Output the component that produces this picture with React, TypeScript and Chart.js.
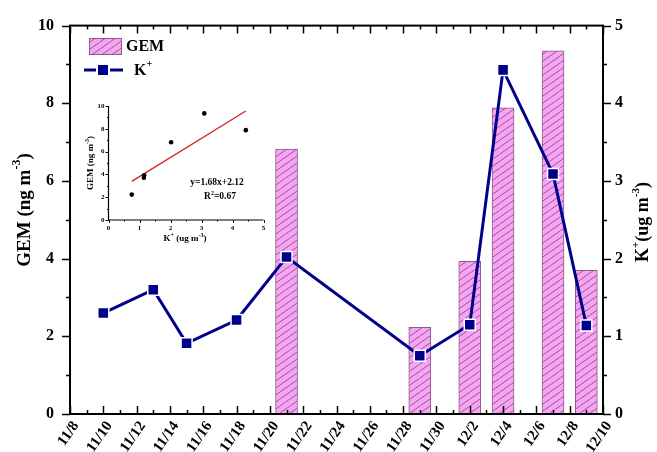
import React, { useEffect, useRef } from "react";
import { Chart, registerables } from "chart.js";

Chart.register(...registerables);

// Date axis: 11/8 .. 12/10, labelled every second day
const TICK_LABELS = [
  "11/8", "11/10", "11/12", "11/14", "11/16", "11/18", "11/20", "11/22", "11/24",
  "11/26", "11/28", "11/30", "12/2", "12/4", "12/6", "12/8", "12/10",
];

// GEM (ng m-3), bars on the left axis
const GEM_DATES = ["11/21", "11/29", "12/2", "12/4", "12/7", "12/9"];
const GEM_VALUES = [6.82, 2.23, 3.93, 7.88, 9.35, 3.7];

// K+ (ug m-3), line on the right axis
const K_DATES = ["11/10", "11/13", "11/15", "11/18", "11/21", "11/29", "12/2", "12/4", "12/7", "12/9"];
const K_VALUES = [1.3, 1.6, 0.91, 1.21, 2.02, 0.75, 1.15, 4.43, 3.09, 1.14];

// Linear fit of GEM against K+
const FIT_SLOPE = 1.68;
const FIT_INTERCEPT = 2.12;
const FIT_TEXT = "y=1.68x+2.12";
const R2_VALUE = "0.67";

const NAVY = "#00008B";
const PINK = "#F7A4F5";
const BAR_EDGE = "#8C5A8C";
const SERIF = '"Liberation Serif", "Times New Roman", serif';

const dayOf = (label: string) => {
  const [m, d] = label.split("/").map(Number);
  return m === 11 ? d - 8 : d + 22;
};

type Part = { t: string; sup?: boolean };

function drawRich(
  ctx: CanvasRenderingContext2D,
  parts: Part[],
  cx: number,
  cy: number,
  size: number,
  rotate: boolean,
  align: "center" | "left" = "center"
) {
  ctx.save();
  ctx.translate(cx, cy);
  if (rotate) ctx.rotate(-Math.PI / 2);
  const base = `bold ${size}px ${SERIF}`;
  const supF = `bold ${Math.round(size * 0.62)}px ${SERIF}`;
  let total = 0;
  const widths = parts.map((p) => {
    ctx.font = p.sup ? supF : base;
    const w = ctx.measureText(p.t).width;
    total += w;
    return w;
  });
  let x = align === "center" ? -total / 2 : 0;
  ctx.textBaseline = "middle";
  ctx.textAlign = "left";
  ctx.fillStyle = "#000";
  parts.forEach((p, i) => {
    ctx.font = p.sup ? supF : base;
    ctx.fillText(p.t, x, p.sup ? -size * 0.4 : 0);
    x += widths[i];
  });
  ctx.restore();
}

function makeHatch(): CanvasPattern | string {
  const w = 10;
  const h = 7;
  const c = document.createElement("canvas");
  c.width = w;
  c.height = h;
  const g = c.getContext("2d");
  if (!g) return PINK;
  g.fillStyle = PINK;
  g.fillRect(0, 0, w, h);
  g.strokeStyle = "rgba(95,55,95,0.85)";
  g.lineWidth = 0.8;
  g.beginPath();
  g.moveTo(-1, h + 0.7);
  g.lineTo(w + 1, -0.7);
  g.stroke();
  const p = g.createPattern(c, "repeat");
  return p || PINK;
}

export default function App() {
  const mainRef = useRef<HTMLCanvasElement | null>(null);
  const insetRef = useRef<HTMLCanvasElement | null>(null);

  useEffect(() => {
    if (!mainRef.current || !insetRef.current) return;
    const hatch = makeHatch();

    const gemPoints = GEM_DATES.map((d, i) => ({ x: dayOf(d), y: GEM_VALUES[i] }));
    const kPoints = K_DATES.map((d, i) => ({ x: dayOf(d), y: K_VALUES[i] }));

    const tickFont = { family: SERIF, size: 16, weight: "bold" as const };

    const framePlugin = {
      id: "frame",
      afterDraw(chart: any) {
        const ctx: CanvasRenderingContext2D = chart.ctx;
        const { left, right, top, bottom } = chart.chartArea;
        const xs = chart.scales.x;
        const yl = chart.scales.y;
        const yr = chart.scales.y1;
        ctx.save();
        ctx.strokeStyle = "#000";
        ctx.lineWidth = 2;
        ctx.strokeRect(left, top, right - left, bottom - top);

        ctx.lineWidth = 1.5;
        ctx.beginPath();
        for (let d = 0; d <= 32; d++) {
          const px = Math.round(xs.getPixelForValue(d)) + 0.5;
          const len = d % 2 === 0 ? 8 : 4;
          ctx.moveTo(px, bottom);
          ctx.lineTo(px, bottom - len);
          ctx.moveTo(px, top);
          ctx.lineTo(px, top + len);
        }
        for (let v = 0; v <= 10; v++) {
          const py = Math.round(yl.getPixelForValue(v)) + 0.5;
          const len = v % 2 === 0 ? 8 : 4;
          ctx.moveTo(left, py);
          ctx.lineTo(left - len, py);
        }
        for (let v = 0; v <= 10; v++) {
          const py = Math.round(yr.getPixelForValue(v / 2)) + 0.5;
          const len = v % 2 === 0 ? 8 : 4;
          ctx.moveTo(right, py);
          ctx.lineTo(right + len, py);
        }
        ctx.stroke();
        ctx.restore();

        // axis titles
        drawRich(ctx, [{ t: "GEM (ng m" }, { t: "-3", sup: true }, { t: ")" }], 25, 210, 19, true);
        drawRich(ctx, [{ t: "K" }, { t: "+", sup: true }, { t: "(ug m" }, { t: "-3", sup: true }, { t: ")" }], 643, 222, 18, true);

        // legend
        ctx.save();
        ctx.fillStyle = hatch as any;
        ctx.fillRect(89, 38, 33, 17);
        ctx.strokeStyle = BAR_EDGE;
        ctx.lineWidth = 1;
        ctx.strokeRect(89.5, 38.5, 32, 16);
        ctx.strokeStyle = NAVY;
        ctx.lineWidth = 3;
        ctx.beginPath();
        ctx.moveTo(84, 70);
        ctx.lineTo(96, 70);
        ctx.moveTo(110, 70);
        ctx.lineTo(123, 70);
        ctx.stroke();
        ctx.fillStyle = NAVY;
        ctx.fillRect(98, 65, 10, 10);
        ctx.restore();
        drawRich(ctx, [{ t: "GEM" }], 126, 47, 16, false, "left");
        drawRich(ctx, [{ t: "K" }, { t: "+", sup: true }], 134, 71, 16, false, "left");
      },
    };

    const main = new Chart(mainRef.current, {
      type: "bar",
      data: {
        datasets: [
          {
            type: "line",
            label: "K+",
            data: kPoints,
            yAxisID: "y1",
            borderColor: NAVY,
            borderWidth: 3,
            pointStyle: "rect",
            pointRadius: 7.8,
            pointBackgroundColor: NAVY,
            pointBorderColor: "#fff",
            pointBorderWidth: 1.5,
            tension: 0,
            order: 0,
          } as any,
          {
            type: "bar",
            label: "GEM",
            data: gemPoints,
            yAxisID: "y",
            backgroundColor: hatch as any,
            borderColor: BAR_EDGE,
            borderWidth: 1,
            barThickness: 22,
            order: 1,
          } as any,
        ],
      },
      options: {
        responsive: false,
        animation: false,
        layout: { padding: { top: 22, left: 0, right: 0, bottom: 0 } },
        plugins: { legend: { display: false }, tooltip: { enabled: false } },
        scales: {
          x: {
            type: "linear",
            min: 0,
            max: 32,
            offset: false,
            grid: { display: false, drawTicks: false },
            border: { display: false },
            ticks: {
              stepSize: 2,
              autoSkip: false,
              maxRotation: 55,
              minRotation: 55,
              padding: 4,
              labelOffset: 6,
              color: "#000",
              font: { family: SERIF, size: 15, weight: "bold" },
              callback: (v: any) => TICK_LABELS[Math.round(Number(v) / 2)] ?? "",
            },
            afterFit: (s: any) => {
              s.height = 38;
            },
          },
          y: {
            position: "left",
            min: 0,
            max: 10,
            grid: { display: false, drawTicks: false },
            border: { display: false },
            ticks: { stepSize: 2, padding: 16, color: "#000", font: tickFont },
            afterFit: (s: any) => {
              s.width = 70;
            },
          },
          y1: {
            position: "right",
            min: 0,
            max: 5,
            grid: { display: false, drawTicks: false },
            border: { display: false },
            ticks: { stepSize: 1, padding: 12, color: "#000", font: tickFont },
            afterFit: (s: any) => {
              s.width = 54;
            },
          },
        } as any,
      },
      plugins: [framePlugin],
    });

    // scatter of GEM against K+ on the days both were measured
    const pairs = GEM_DATES.map((d, i) => ({ x: K_VALUES[K_DATES.indexOf(d)], y: GEM_VALUES[i] }));
    const kMin = Math.min(...pairs.map((p) => p.x));
    const kMax = Math.max(...pairs.map((p) => p.x));
    const fitLine = [
      { x: kMin, y: FIT_SLOPE * kMin + FIT_INTERCEPT },
      { x: kMax, y: FIT_SLOPE * kMax + FIT_INTERCEPT },
    ];

    const insetFont = { family: SERIF, size: 7, weight: "bold" as const };
    const insetPlugin = {
      id: "insetFrame",
      afterDraw(chart: any) {
        const ctx: CanvasRenderingContext2D = chart.ctx;
        const { left, bottom, top, right } = chart.chartArea;
        const xs = chart.scales.x;
        const ys = chart.scales.y;
        ctx.save();
        ctx.strokeStyle = "#000";
        ctx.lineWidth = 1.2;
        ctx.beginPath();
        ctx.moveTo(left, top);
        ctx.lineTo(left, bottom);
        ctx.lineTo(right, bottom);
        ctx.stroke();
        ctx.lineWidth = 1;
        ctx.beginPath();
        for (let k = 0; k <= 10; k++) {
          const px = Math.round(xs.getPixelForValue(k / 2)) + 0.5;
          const len = k % 2 === 0 ? 3 : 1.5;
          ctx.moveTo(px, bottom);
          ctx.lineTo(px, bottom + len);
        }
        for (let v = 0; v <= 10; v++) {
          const py = Math.round(ys.getPixelForValue(v)) + 0.5;
          const len = v % 2 === 0 ? 3 : 1.5;
          ctx.moveTo(left, py);
          ctx.lineTo(left - len, py);
        }
        ctx.stroke();
        ctx.restore();
        drawRich(ctx, [{ t: "K" }, { t: "+", sup: true }, { t: " (ug m" }, { t: "-3", sup: true }, { t: ")" }], 115, 149, 9, false);
        drawRich(ctx, [{ t: "GEM (ng m" }, { t: "-3", sup: true }, { t: ")" }], 21, 73, 9, true);
        drawRich(ctx, [{ t: FIT_TEXT }], 147, 93, 9.5, false);
        drawRich(ctx, [{ t: "R" }, { t: "2", sup: true }, { t: "=" + R2_VALUE }], 150, 107, 9.5, false);
      },
    };

    const inset = new Chart(insetRef.current, {
      type: "scatter",
      data: {
        datasets: [
          {
            type: "scatter",
            data: pairs,
            pointRadius: 2.3,
            backgroundColor: "#000",
            borderWidth: 0,
          } as any,
          {
            type: "line",
            data: fitLine,
            borderColor: "#D8262B",
            borderWidth: 1.4,
            pointRadius: 0,
          } as any,
        ],
      },
      options: {
        responsive: false,
        animation: false,
        layout: { padding: { top: 16, right: 16.5, left: 0, bottom: 0 } },
        plugins: { legend: { display: false }, tooltip: { enabled: false } },
        scales: {
          x: {
            type: "linear",
            min: 0,
            max: 5,
            grid: { display: false, drawTicks: false },
            border: { display: false },
            ticks: { stepSize: 1, padding: 4, color: "#000", font: insetFont },
            afterFit: (s: any) => {
              s.height = 35;
            },
          },
          y: {
            min: 0,
            max: 10,
            grid: { display: false, drawTicks: false },
            border: { display: false },
            ticks: { stepSize: 2, padding: 4, color: "#000", font: insetFont },
            afterFit: (s: any) => {
              s.width = 38.5;
            },
          },
        } as any,
      },
      plugins: [insetPlugin],
    });

    return () => {
      main.destroy();
      inset.destroy();
    };
  }, []);

  return (
    <div style={{ position: "fixed", left: 0, top: 0, width: 657, height: 452, background: "#fff" }}>
      <canvas ref={mainRef} width={657} height={452} style={{ position: "absolute", left: 0, top: 0, width: 657, height: 452 }} />
      <canvas ref={insetRef} width={210} height={165} style={{ position: "absolute", left: 70, top: 90, width: 210, height: 165 }} />
    </div>
  );
}
